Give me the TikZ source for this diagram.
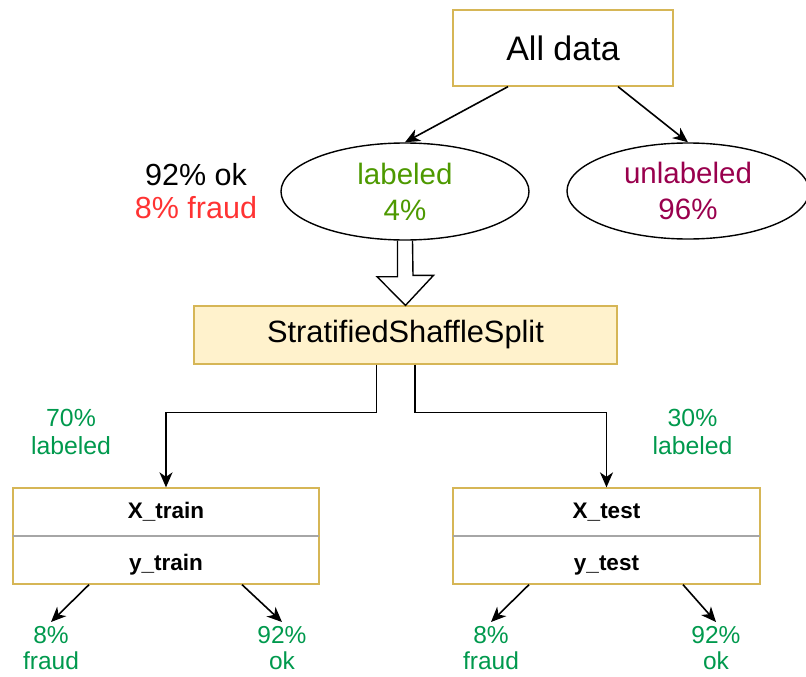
\documentclass[tikz,border=0pt]{standalone}
\usepackage{fontspec}
\setmainfont{Liberation Sans}
\usetikzlibrary{arrows.meta,shapes.geometric,calc}
\definecolor{gold}{HTML}{D6B656}
\definecolor{paleyellow}{HTML}{FFF2CC}
\definecolor{labgreen}{HTML}{4D9900}
\definecolor{unlpurple}{HTML}{99004D}
\definecolor{fraudred}{HTML}{FF3333}
\definecolor{pctgreen}{HTML}{00994D}
\tikzset{
  goldbox/.style={draw=gold, line width=1.3pt, rectangle, inner sep=0pt},
  oval/.style={draw=black, line width=1.4pt, ellipse, inner sep=0pt, align=center},
  arr/.style={line width=1.6pt, -{Stealth[length=15pt,width=13pt,inset=4.5pt]}},
  fbig/.style={font=\fontsize{34}{40}\selectfont},
  fsplit/.style={font=\fontsize{30.8}{36}\selectfont},
  fsmall/.style={font=\fontsize{24.8}{27.5}\selectfont, text=pctgreen, align=center, inner sep=0pt},
  fbold/.style={font=\fontsize{22.5}{26}\selectfont\bfseries, inner sep=0pt},
  leaf/.style={font=\fontsize{24.5}{26}\selectfont, text=pctgreen, align=center, anchor=north, inner sep=0pt}
}
\begin{document}
\begin{tikzpicture}[x=1pt,y=-1pt]
\useasboundingbox (0,0) rectangle (806,677);

% top box
\node[goldbox, fill=white, minimum width=220pt, minimum height=76pt, fbig] (all) at (563,48) {All data};

% ellipses
\node[oval, minimum width=248pt, minimum height=97pt, text=labgreen, font=\fontsize{29.5}{36}\selectfont] (lab) at (405,191.5) {labeled\\4\%};
\node[oval, minimum width=242pt, minimum height=96pt, text=unlpurple, font=\fontsize{29.5}{36}\selectfont] (unl) at (688,191) {unlabeled\\96\%};

% side note
\node[align=center, inner sep=0pt, font=\fontsize{30.5}{33.5}\selectfont] (note) at (196,191) {92\% ok\\\textcolor{fraudred}{8\% fraud}};

% arrows from All data
\draw[arr] ([xshift=-55pt]all.south) -- (lab.north);
\draw[arr] ([xshift=55pt]all.south) -- (unl.north);

% split box
\node[goldbox, fill=paleyellow, minimum width=423pt, minimum height=58pt, fsplit] (sss) at (405.5,335) {StratifiedShaffleSplit};

% hollow block arrow
\draw[line width=1.4pt, line join=miter]
  ([xshift=-7.5pt]lab.south) -- ++(0,36) -- ++(-20.5,0) -- (sss.north)
  -- ++(28,-30) -- ++(-20.5,0) -- ([xshift=7.5pt]lab.south);

% result boxes
\node[goldbox, fill=white, minimum width=306pt, minimum height=96pt] (train) at (166,536) {};
\node[goldbox, fill=white, minimum width=307pt, minimum height=96pt] (test) at (606.5,536) {};
\draw[gray!70, line width=1.6pt] ([xshift=0.7pt]train.west) -- ([xshift=-0.7pt]train.east);
\draw[gray!70, line width=1.6pt] ([xshift=0.7pt]test.west) -- ([xshift=-0.7pt]test.east);
\node[fbold] (xtr) at (166,512) {X\_train};
\node[fbold] (ytr) at (166,565) {y\_train};
\node[fbold] (xte) at (606.5,512) {X\_test};
\node[fbold] (yte) at (606.5,565) {y\_test};

% split connectors
\draw[arr] ([xshift=-29pt]sss.south) -- ++(0,48) -| (train.north);
\draw[arr] ([xshift=9.5pt]sss.south) -- ++(0,48) -| (test.north);

% percentage labels
\node[fsmall] (p70) at (71,432) {70\%\\labeled};
\node[fsmall] (p30) at (692.5,432) {30\%\\labeled};

% leaves
\node[leaf] (trf) at (51,626) {8\%\\fraud};
\node[leaf] (tro) at (282,626) {92\%\\ok};
\node[leaf] (tef) at (491,626) {8\%\\fraud};
\node[leaf] (teo) at (716,626) {92\%\\ok};

\draw[arr] ([xshift=-77pt]train.south) -- ([yshift=4pt]trf.north);
\draw[arr] ([xshift=76pt]train.south) -- ([yshift=4pt]tro.north);
\draw[arr] ([xshift=-77.5pt]test.south) -- ([yshift=4pt]tef.north);
\draw[arr] ([xshift=76.5pt]test.south) -- ([yshift=4pt]teo.north);
\end{tikzpicture}
\end{document}
